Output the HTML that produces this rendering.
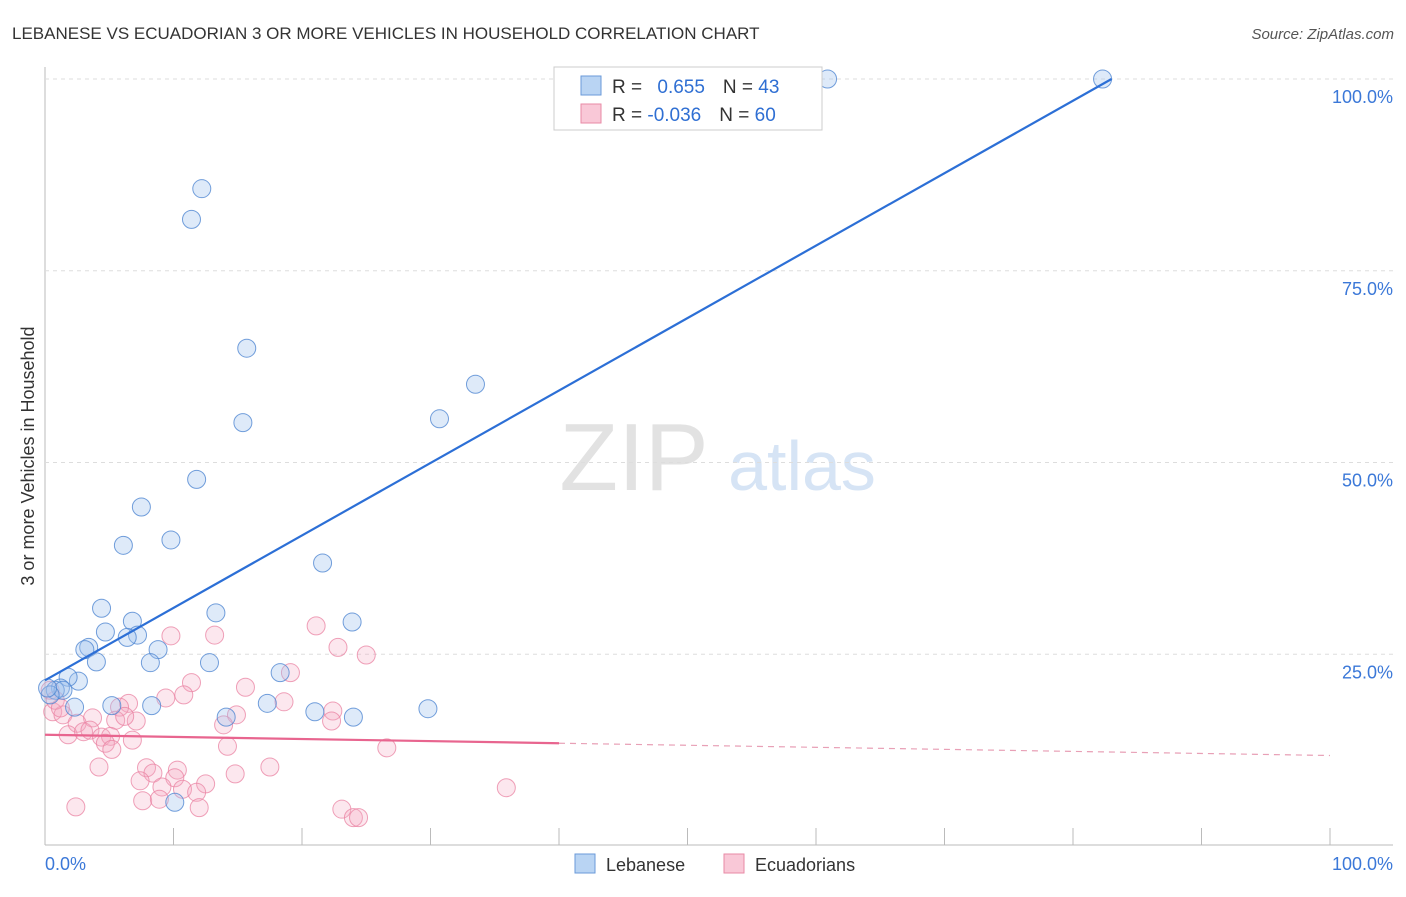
<!DOCTYPE html>
<html><head><meta charset="utf-8"><style>
body{margin:0;background:#fff;font-family:"Liberation Sans",sans-serif;}
svg text{font-family:"Liberation Sans",sans-serif;}
</style></head><body>
<svg id="c" width="1406" height="892">
<text x="12" y="39" font-size="17" fill="#333">LEBANESE VS ECUADORIAN 3 OR MORE VEHICLES IN HOUSEHOLD CORRELATION CHART</text>
<text x="1394" y="39" font-size="15" fill="#555" text-anchor="end" font-style="italic">Source: ZipAtlas.com</text>
<text x="634" y="490" font-size="96" fill="#e2e2e2" font-family="Liberation Serif" text-anchor="middle">ZIP</text>
<text x="802" y="490" font-size="70" fill="#d6e4f5" text-anchor="middle">atlas</text>
<text transform="translate(34,456) rotate(-90)" font-size="18" fill="#333" text-anchor="middle">3 or more Vehicles in Household</text>
<g id="grid"></g><g id="marks"></g>
<g>
<rect x="554" y="67" width="268" height="63" fill="#fff" stroke="#ccc"/>
<rect x="581" y="76" width="20" height="19" fill="#b9d4f3" stroke="#6a9ad8"/>
<rect x="581" y="104" width="20" height="19" fill="#f9c8d7" stroke="#e88aa6"/>
<text x="612" y="93" font-size="19" fill="#333">R = <tspan fill="#2f6fd3" dx="10">0.655</tspan><tspan dx="18" fill="#333">N = </tspan><tspan fill="#2f6fd3">43</tspan></text>
<text x="612" y="121" font-size="19" fill="#333">R = <tspan fill="#2f6fd3">-0.036</tspan><tspan dx="18" fill="#333">N = </tspan><tspan fill="#2f6fd3">60</tspan></text>
</g>
<g>
<rect x="575" y="854" width="20" height="19" fill="#b9d4f3" stroke="#6a9ad8"/>
<text x="606" y="871" font-size="18" fill="#333">Lebanese</text>
<rect x="724" y="854" width="20" height="19" fill="#f9c8d7" stroke="#e88aa6"/>
<text x="755" y="871" font-size="18" fill="#333">Ecuadorians</text>
</g>
</svg>
<script>
const xTicks=[0,10,20,30,40,50,60,70,80,90,100];
const yTicks=[25,50,75,100];
const yTickLabels=["25.0%","50.0%","75.0%","100.0%"];
const blueX=[60.9,82.3,12.2,11.4,15.7,15.4,33.5,30.7,11.8,7.5,9.8,6.1,21.6,4.4,13.3,23.9,6.8,4.7,3.4,7.2,6.4,3.1,8.8,4.0,8.2,12.8,18.3,2.6,1.8,1.2,0.8,1.4,0.4,2.3,5.2,8.3,17.3,21.0,29.8,24.0,14.1,10.1,0.2];
const blueY=[100,100,85.7,81.7,64.9,55.2,60.2,55.7,47.8,44.2,39.9,39.2,36.9,31.0,30.4,29.2,29.3,27.9,25.9,27.5,27.2,25.6,25.6,24.0,23.9,23.9,22.6,21.5,22.0,20.6,20.3,20.3,19.7,18.1,18.3,18.3,18.6,17.5,17.9,16.8,16.8,5.7,20.6];
const pinkX=[21.1,22.8,25.0,9.8,13.2,19.1,11.4,10.8,9.4,15.6,18.6,6.5,5.8,3.7,5.5,7.1,6.2,14.9,13.9,22.4,22.3,0.6,1.4,2.5,1.8,3.0,3.5,4.4,5.1,4.7,5.2,6.8,14.2,26.6,4.2,7.9,8.4,10.3,7.4,10.1,9.1,10.7,14.8,17.5,12.5,11.8,7.6,8.9,2.4,12.0,23.1,24.0,24.4,35.9,0.4,0.8,1.2];
const pinkY=[28.7,25.9,24.9,27.4,27.5,22.6,21.3,19.7,19.3,20.7,18.8,18.6,18.1,16.7,16.4,16.3,16.9,17.1,15.8,17.6,16.3,17.5,17.1,16.0,14.5,14.9,15.1,14.2,14.3,13.4,12.6,13.8,13.0,12.8,10.3,10.2,9.5,9.9,8.5,8.9,7.7,7.4,9.4,10.3,8.1,7.0,5.9,6.1,5.1,5.0,4.8,3.7,3.7,7.6,20.3,19.0,18.0];
const blueTrendX=[0,83];const blueTrendY=[21.6,100];
const pinkTrendX=[0,40,100];const pinkTrendY=[14.5,13.4,11.8];
const X=v=>45+v*12.85, Y=v=>846-v*7.67;
const NS="http://www.w3.org/2000/svg";
const grid=document.getElementById('grid'),marks=document.getElementById('marks');
function mk(tag,attrs,parent){const e=document.createElementNS(NS,tag);for(const k in attrs)e.setAttribute(k,attrs[k]);parent.appendChild(e);return e;}
let ax=mk('line',{x1:45,y1:67,x2:45,y2:845,stroke:'#bbb'},grid);


let bx=mk('line',{x1:45,y1:845,x2:1393,y2:845,stroke:'#bbb'},grid);


yTicks.forEach((t,i)=>{
 let g=mk('line',{x1:45,x2:1393,y1:Y(t),y2:Y(t),stroke:'#ddd','stroke-dasharray':'4,4'},grid);
 
 
 let l=mk('text',{x:1393,y:Y(t)+24,'font-size':18,fill:'#3b78d8','text-anchor':'end'},grid);l.textContent=yTickLabels[i];
 
 
});
xTicks.forEach(t=>{
 let g=mk('line',{x1:X(t),x2:X(t),y1:828,y2:845,stroke:'#bbb'},grid);
 
 
});
[[0,"0.0%","start",45],[100,"100.0%","end",1393]].forEach(a=>{
 let l=mk('text',{x:a[3],y:870,'font-size':18,fill:'#3b78d8','text-anchor':a[2]},grid);l.textContent=a[1];
 
 
});
pinkX.forEach((v,i)=>{
 let c=mk('circle',{cx:X(v),cy:Y(pinkY[i]),r:9,fill:'rgba(244,170,195,0.28)',stroke:'rgba(233,130,162,0.75)','stroke-width':1},marks);
 
 
});
blueX.forEach((v,i)=>{
 let c=mk('circle',{cx:X(v),cy:Y(blueY[i]),r:9,fill:'rgba(160,195,238,0.35)',stroke:'rgba(80,135,210,0.8)','stroke-width':1},marks);
 
 
});
let bl=mk('line',{x1:X(blueTrendX[0]),y1:Y(blueTrendY[0]),x2:X(blueTrendX[1]),y2:Y(blueTrendY[1]),stroke:'#2c6fd6','stroke-width':2.2},marks);


let pl=mk('line',{x1:X(pinkTrendX[0]),y1:Y(pinkTrendY[0]),x2:X(pinkTrendX[1]),y2:Y(pinkTrendY[1]),stroke:'#e8658f','stroke-width':2.2},marks);


let pd=mk('line',{x1:X(pinkTrendX[1]),y1:Y(pinkTrendY[1]),x2:X(pinkTrendX[2]),y2:Y(pinkTrendY[2]),stroke:'#e8a0b6','stroke-width':1.2,'stroke-dasharray':'6,5'},marks);


</script>
</body></html>
